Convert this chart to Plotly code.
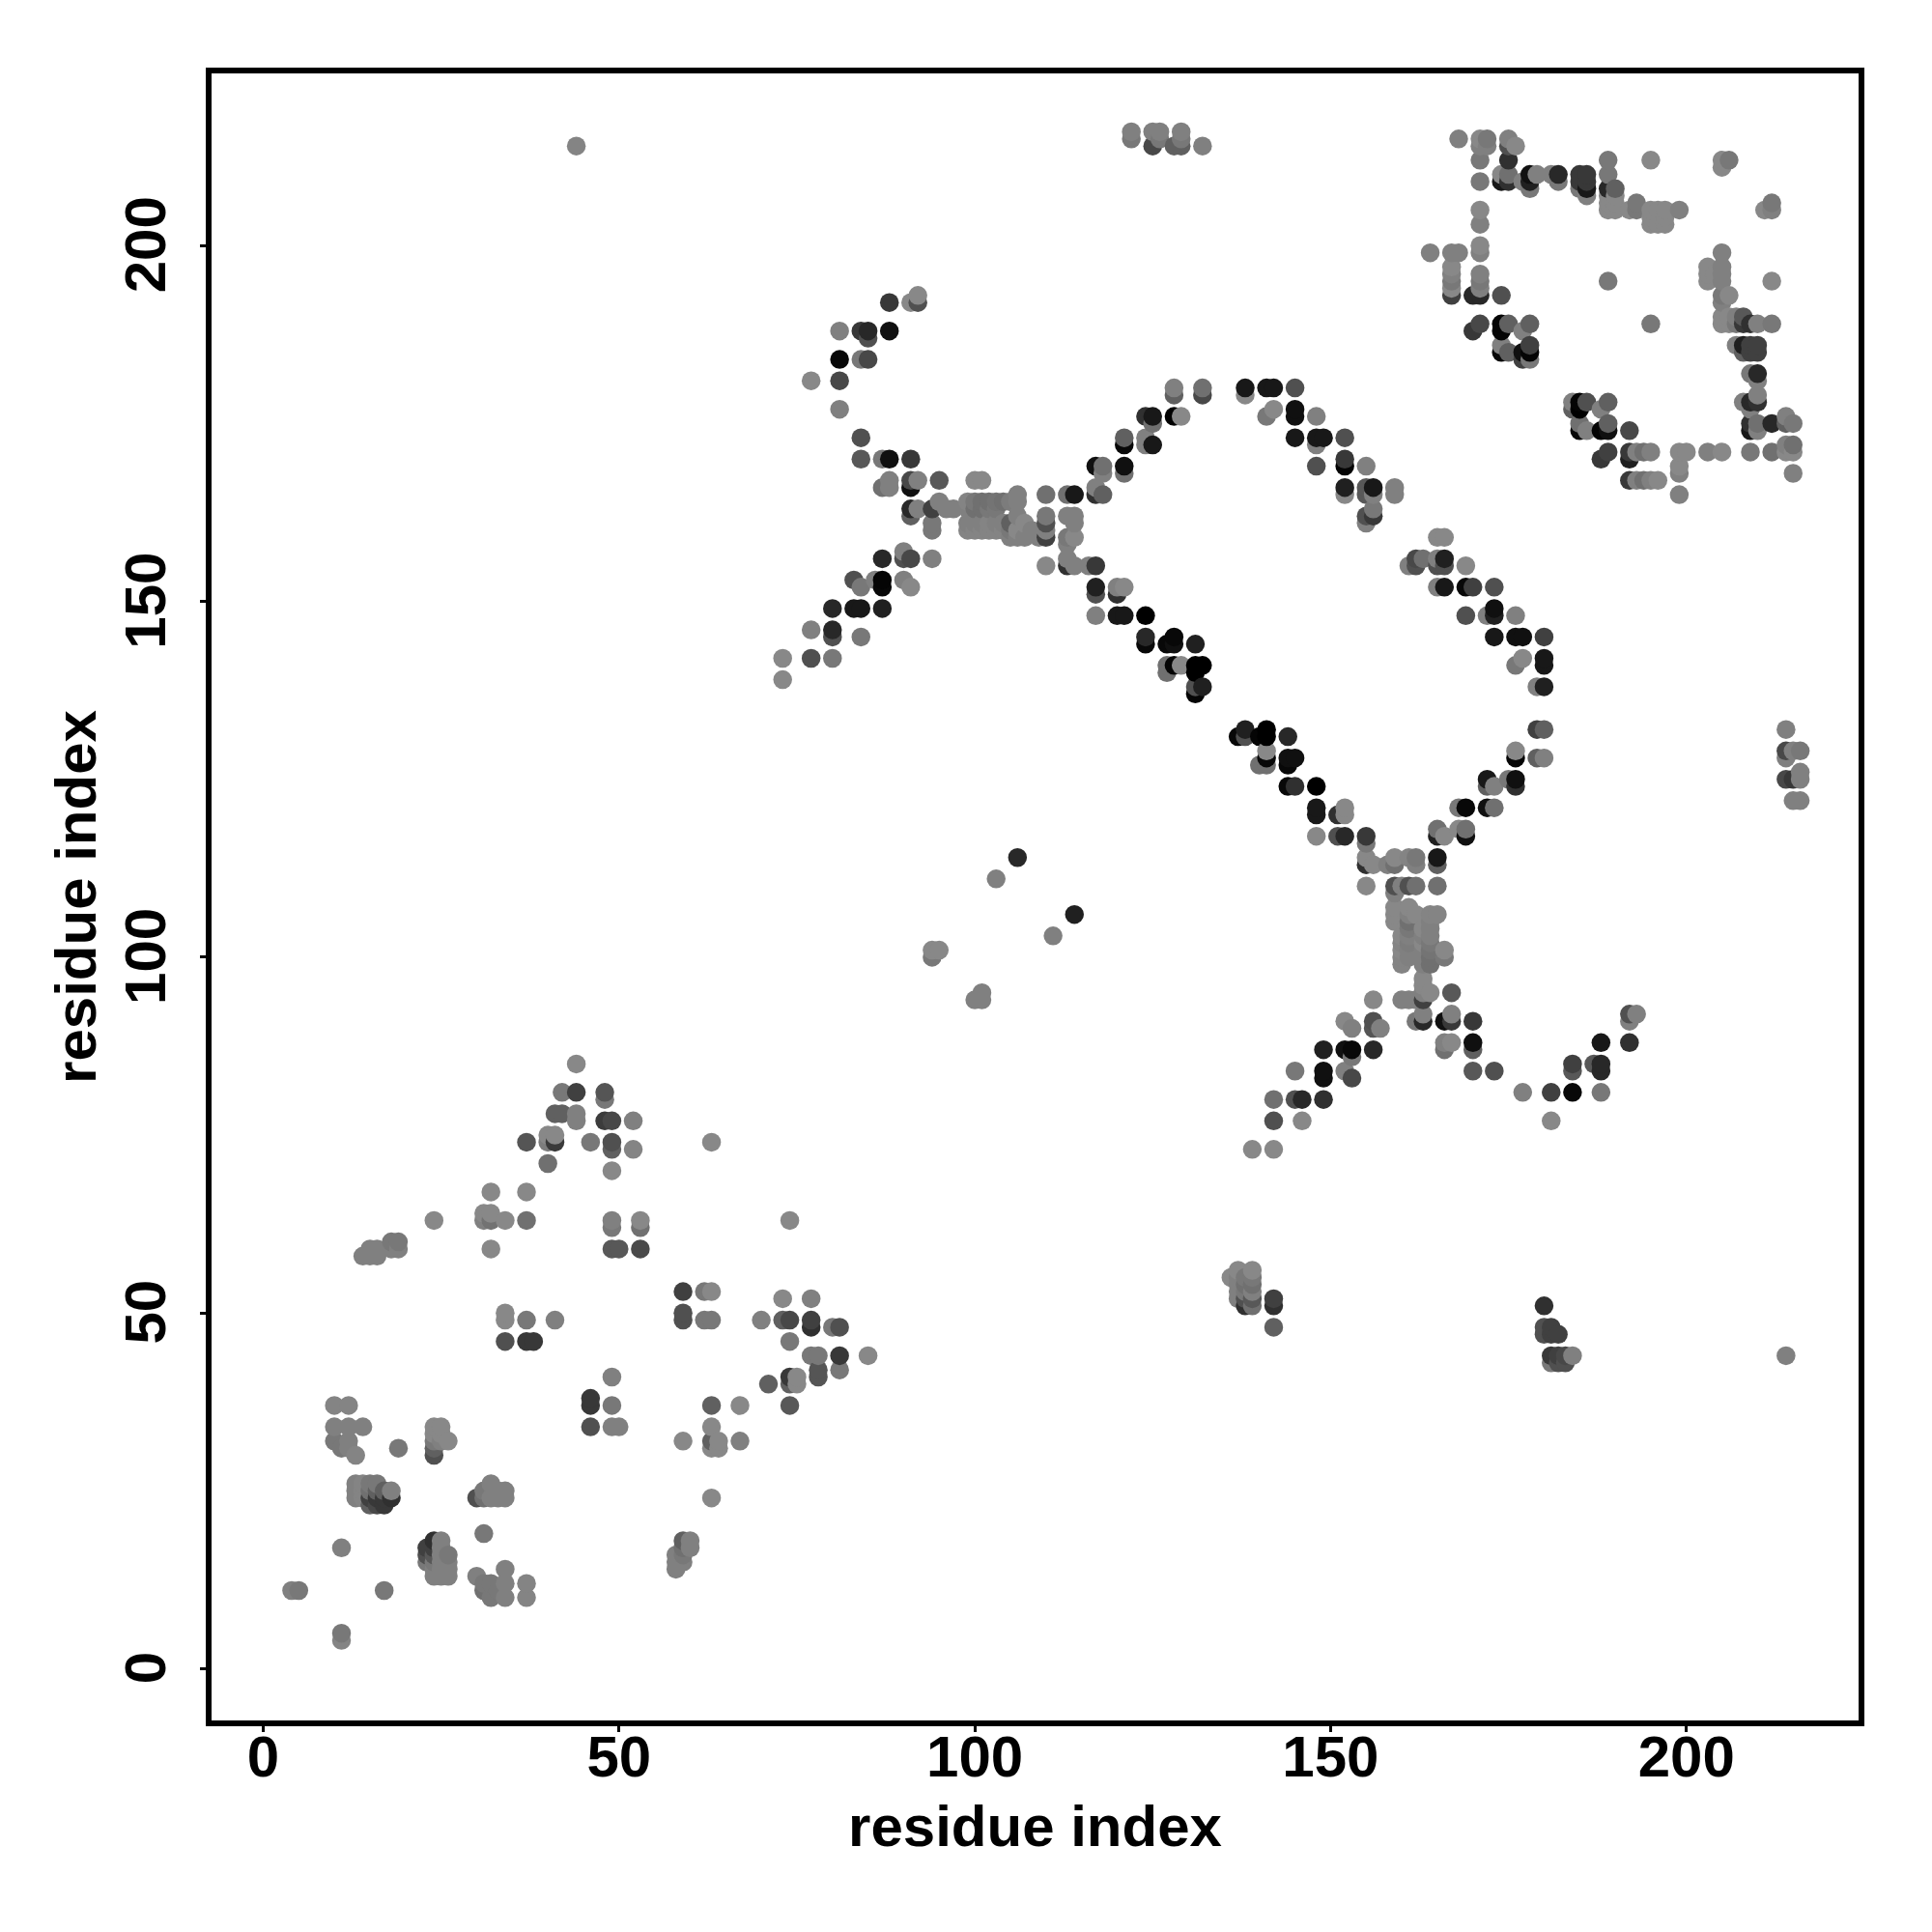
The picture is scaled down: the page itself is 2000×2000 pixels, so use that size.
import plotly.graph_objects as go

TICKS = [0, 50, 100, 150, 200]
AXIS_LABEL = "residue index"

peak_x = [44,42,44,48,48,41,42,44,44,48,49,52,37,40,40,41,41,46,49,49,52,40,49]
peak_y = [85,81,81,81,80,78,78,78,77,77,77,77,74,74,75,75,74,74,74,73,73,71,70]
peak_s = [0x88,0x78,0x40,0x55,0x78,0x60,0x60,0x80,0x80,0x3c,0x48,0x80,0x55,0x7d,0x88,0x88,0x3a,0x78,0x50,0x60,0x84,0x70,0x88]

midl_x = [32,37,24,31,32,31,32,34,37,32,49,49,53,53,49,50,53,15,16,14,15,16,18,19,18,19]
midl_y = [67,67,63,64,64,63,63,63,63,59,63,62,63,62,59,59,59,59,59,58,58,58,60,60,59,59]
midl_s = [0x88,0x88,0x88,0x88,0x88,0x80,0x72,0x88,0x70,0x88,0x80,0x78,0x88,0x70,0x58,0x58,0x4a,0x80,0x80,0x80,0x80,0x80,0x78,0x78,0x80,0x80]

band_x = [34,34,37,41,34,37,38,49,46,46,49,46,49,50]
band_y = [50,49,49,49,46,46,46,41,38,37,37,34,34,34]
band_s = [0x88,0x88,0x78,0x80,0x50,0x38,0x38,0x80,0x38,0x38,0x78,0x50,0x80,0x80]

low1_x = [10,12,10,12,14,10,11,12,12,13,19,24,25,24,25,26,24,25,24,24]
low1_y = [37,37,34,34,34,32,31,32,31,30,31,34,34,33,33,32,32,32,31,30]
low1_s = [0x84,0x84,0x80,0x80,0x80,0x78,0x78,0x80,0x80,0x84,0x78,0x88,0x88,0x88,0x88,0x88,0x78,0x80,0x60,0x50]

low2_x = [13,13,13,14,14,14,15,15,15,15,16,16,16,16,17,17,17,18,18,32,31,33,34,30,31,32,33,34]
low2_y = [26,25,24,26,25,24,26,25,24,23,26,25,24,23,25,24,23,25,24,26,25,25,25,24,24,24,24,24]
low2_s = [0x80,0x80,0x80,0x84,0x84,0x84,0x78,0x70,0x40,0x60,0x78,0x60,0x38,0x48,0x60,0x38,0x38,0x80,0x30,0x80,0x78,0x80,0x80,0x50,0x70,0x80,0x80,0x80]

low3_x = [31,11,23,23,23,24,24,24,24,24,24,25,25,25,25,25,25,26,26,26,26]
low3_y = [19,17,17,16,15,18,17,16,15,14,13,18,17,16,15,14,13,16,15,14,13]
low3_s = [0x78,0x80,0x40,0x50,0x78,0x30,0x40,0x58,0x78,0x80,0x80,0x80,0x80,0x80,0x80,0x80,0x80,0x78,0x80,0x80,0x80]

low4_x = [4,5,17,30,31,32,34,34,31,33,32,34,37,37,11,11,59,60,59,60,58,59,58,59,58]
low4_y = [11,11,11,13,12,12,14,12,11,11,10,10,12,10,5,4,18,18,17,17,16,16,15,15,14]
low4_s = [0x80,0x78,0x78,0x80,0x78,0x78,0x80,0x80,0x70,0x78,0x78,0x80,0x84,0x84,0x78,0x84,0x60,0x80,0x70,0x80,0x80,0x78,0x80,0x80,0x80]

mid2_x = [63,74,59,62,63,59,59,62,63,73,77,70,73,74,77,77,80,81,74,77,78,81,85]
mid2_y = [74,63,53,53,53,50,49,49,49,52,52,49,49,49,49,48,48,48,46,44,44,44,44]
mid2_s = [0x88,0x88,0x40,0x78,0x88,0x50,0x50,0x78,0x78,0x88,0x80,0x80,0x60,0x48,0x40,0x30,0x78,0x50,0x78,0x78,0x78,0x38,0x88]

mid3_x = [78,78,81,71,74,74,75,75,63,67,74,63,63,64,63,64,67,59,63]
mid3_y = [42,41,42,40,41,40,41,40,37,37,37,34,32,32,31,31,32,32,24]
mid3_s = [0x55,0x55,0x78,0x60,0x38,0x60,0x88,0x88,0x60,0x88,0x58,0x88,0x60,0x88,0x88,0x88,0x80,0x88,0x88]

arm1_x = [148,151,152,155,155,165,165,166,169,169,168,155,155,156,158,159,159,161,162,162,165,165,155,159,160,161,162,165,159]
arm1_y = [117,117,117,117,116,117,118,117,117,118,118,114,113,113,113,114,113,114,114,113,114,113,110,110,110,110,110,110,109]
arm1_s = [0x88,0x50,0x28,0x38,0x78,0x20,0x70,0x88,0x10,0x70,0x88,0x88,0x30,0x88,0x80,0x88,0x70,0x84,0x78,0x80,0x18,0x60,0x88,0x50,0x80,0x50,0x70,0x70,0x80]

col1_x = [159,159,159,161,162,161,161,164,165,166,166,160,160,160,160,160,161,161,161,161,161]
col1_y = [107,106,105,107,106,106,105,106,106,101,100,103,102,101,100,99,104,103,102,101,100]
col1_s = [0x88,0x88,0x88,0x88,0x88,0x80,0x70,0x84,0x84,0x88,0x78,0x88,0x84,0x88,0x84,0x84,0x78,0x80,0x7c,0x80,0x80]

col2_x = [163,163,163,163,163,163,164,164,164,164,164,164,164,163,163,163,163,164,167,156,160,161,162]
col2_y = [104,103,102,101,100,99,105,104,103,102,101,100,99,97,96,95,94,95,95,94,94,94,94]
col2_s = [0x88,0x80,0x88,0x80,0x80,0x80,0x80,0x80,0x80,0x78,0x74,0x70,0x70,0x88,0x88,0x80,0x40,0x88,0x58,0x88,0x80,0x80,0x80]

arm2_x = [162,163,163,166,167,167,170,156,156,157,152,153,166,167,166,170,170,149,152,153,156,153]
arm2_y = [91,91,92,91,91,92,91,91,90,90,91,90,88,88,87,88,87,87,87,87,87,86]
arm2_s = [0x78,0x28,0x80,0x10,0x38,0x80,0x38,0x50,0x55,0x80,0x88,0x80,0x80,0x88,0x70,0x10,0x60,0x20,0x10,0x08,0x28,0x78]

arm3_x = [145,149,149,152,153,170,173,142,145,146,149,142,146,139,142]
arm3_y = [84,84,83,84,83,84,84,80,80,80,80,77,77,73,73]
arm3_s = [0x78,0x10,0x10,0x80,0x48,0x58,0x50,0x70,0x50,0x28,0x30,0x50,0x88,0x88,0x88]

hook_x = [177,181,184,188,181,184,184,187,188,188,188,192,192,193,192]
hook_y = [81,81,81,81,77,85,84,85,85,84,88,88,92,92,91]
hook_s = [0x80,0x40,0x08,0x78,0x88,0x40,0x58,0x58,0x28,0x28,0x18,0x30,0x50,0x80,0x80]

lobe_x = [136,137,137,137,137,137,138,138,138,138,138,139,139,139,139,139,139]
lobe_y = [55,56,55,54,53,52,55,54,53,52,51,56,55,54,53,52,51]
lobe_s = [0x88,0x88,0x80,0x80,0x80,0x80,0x78,0x70,0x78,0x50,0x30,0x88,0x78,0x70,0x80,0x58,0x70]

lobe2_x = [142,142,142,180,180,180,181,181,182,181,182,183,184,181,182,183,214]
lobe2_y = [52,51,48,51,48,47,48,47,47,44,44,44,44,43,43,43,44]
lobe2_s = [0x40,0x30,0x60,0x30,0x50,0x50,0x40,0x40,0x40,0x38,0x40,0x48,0x80,0x78,0x50,0x50,0x80]

lone_x = [106,103,114,111,94,95,94,101,100,101]
lone_y = [114,111,106,103,101,101,100,95,94,94]
lone_s = [0x28,0x80,0x20,0x80,0x88,0x88,0x78,0x80,0x80,0x80]

ring1_x = [152,152,155,156,155,156,159,159,156,156,155,155,165,166,161,162,162,163,165,166,165,166,169]
ring1_y = [166,165,166,166,165,165,166,165,163,162,162,161,159,159,155,156,155,156,156,156,155,155,155]
ring1_s = [0x20,0x88,0x58,0x18,0x58,0x80,0x80,0x80,0x78,0x38,0x50,0x80,0x88,0x88,0x80,0x48,0x50,0x70,0x80,0x20,0x50,0x50,0x88]

ring2_x = [165,166,169,170,173,169,172,173,173,176,173,176,177,180,177,176,180,180,179,180]
ring2_y = [152,152,152,152,152,148,148,149,148,148,145,145,145,145,142,141,142,141,138,138]
ring2_s = [0x80,0x18,0x08,0x40,0x50,0x50,0x80,0x10,0x20,0x80,0x18,0x10,0x10,0x40,0x88,0x78,0x18,0x18,0x80,0x20]

ring3_x = [179,180,179,180,176,176,172,172,173,175,176,176,168,169,172,173]
ring3_y = [132,132,128,128,129,128,125,124,124,125,125,124,121,121,121,121]
ring3_s = [0x40,0x60,0x60,0x80,0x88,0x05,0x18,0x60,0x80,0x78,0x10,0x30,0x78,0x08,0x10,0x70]

diag_x = [138,137,138,140,141,141,144,141,141,140,141,144,145,144,144,145,148,148,148,151,152,152]
diag_y = [132,131,131,131,132,131,131,129,128,127,127,128,128,127,124,124,124,121,120,120,121,120]
diag_s = [0x20,0x08,0x50,0x05,0x00,0x00,0x28,0x88,0x08,0x70,0x70,0x10,0x10,0x08,0x08,0x30,0x00,0x18,0x18,0x30,0x88,0x88]

up1_x = [88,91,92,92,81,84,85,85,88,81,84,85,77,81,81,84,84,87,88,91]
up1_y = [192,192,192,193,188,188,188,187,188,184,184,184,181,181,177,173,170,170,170,170]
up1_s = [0x38,0x88,0x50,0x88,0x80,0x38,0x28,0x50,0x10,0x08,0x78,0x48,0x88,0x48,0x80,0x50,0x58,0x78,0x10,0x38]

up2_x = [87,88,88,91,91,92,95,91,92,91,94,95,96,97,94,94,100,101]
up2_y = [166,167,166,167,166,167,167,163,163,162,163,164,163,163,161,160,167,167]
up2_s = [0x70,0x80,0x80,0x48,0x10,0x80,0x58,0x28,0x80,0x60,0x40,0x80,0x80,0x80,0x78,0x78,0x88,0x88]

hub1_x = [99,100,101,102,103,104,105,99,100,101,102,103,106]
hub1_y = [164,164,164,164,164,164,164,163,163,163,163,163,162]
hub1_s = [0x84,0x78,0x70,0x70,0x74,0x70,0x7c,0x80,0x70,0x70,0x78,0x78,0x80]

hub2_x = [99,100,101,102,103,104,105,107,99,100,101,102,103,104,105,106,108,105,106,107,109,106,106]
hub2_y = [161,161,161,161,161,161,161,161,160,160,160,160,160,160,160,160,160,159,159,159,159,165,164]
hub2_s = [0x80,0x80,0x80,0x84,0x80,0x80,0x60,0x88,0x84,0x84,0x84,0x84,0x84,0x84,0x78,0x88,0x80,0x80,0x80,0x80,0x80,0x80,0x80]

hub3_x = [110,113,114,110,110,110,110,113,114,114,113,114,113,113,110,113,114,116,117]
hub3_y = [165,165,165,162,161,160,159,162,162,161,159,159,158,156,155,155,155,155,155]
hub3_s = [0x70,0x70,0x18,0x78,0x50,0x80,0x40,0x80,0x80,0x80,0x78,0x88,0x80,0x80,0x88,0x30,0x80,0x80,0x38]

line1_x = [117,117,120,121,120,117,120,121,124,124,124,127,128,128,131,127,127,128,129,131,132,131,131,132,131]
line1_y = [152,151,152,152,151,148,148,148,148,145,144,144,145,144,144,141,140,141,141,141,141,140,138,138,137]
line1_s = [0x20,0x50,0x80,0x88,0x30,0x80,0x18,0x18,0x00,0x28,0x08,0x08,0x08,0x10,0x20,0x70,0x70,0x05,0x88,0x00,0x00,0x00,0x50,0x20,0x05]

cross_x = [90,87,90,91,94,83,84,86,87,87,90,91,80,83,84,87,77,80,80,84,73,77,80,73]
cross_y = [157,156,156,156,156,153,152,153,153,152,153,152,149,149,149,149,146,146,145,145,142,142,142,139]
cross_s = [0x80,0x28,0x50,0x48,0x80,0x50,0x78,0x80,0x05,0x08,0x80,0x88,0x28,0x18,0x18,0x20,0x80,0x28,0x50,0x78,0x88,0x50,0x78,0x88]

roof1_x = [121,121,124,124,125,117,118,118,121,121,117,117,118,124,125,125,128,129,128,128,132,132]
roof1_y = [173,172,173,172,172,169,169,168,169,168,166,165,165,176,176,175,176,176,180,179,180,179]
roof1_s = [0x60,0x08,0x80,0x80,0x18,0x10,0x70,0x80,0x10,0x70,0x80,0x30,0x60,0x30,0x18,0x70,0x00,0x88,0x80,0x60,0x70,0x48]

roof2_x = [145,145,141,142,148,138,138,141,142,145,145,148,149,152,148,148,152,152,155]
roof2_y = [177,176,176,177,176,180,179,180,180,180,173,173,173,173,172,169,170,169,169]
roof2_s = [0x10,0x10,0x78,0x88,0x80,0x18,0x88,0x18,0x18,0x50,0x18,0x18,0x18,0x50,0x80,0x50,0x38,0x05,0x80]

top_x = [44,122,122,125,126,125,126,129,129,128,129,132]
top_y = [214,216,215,216,216,214,215,216,215,214,214,214]
top_s = [0x84,0x80,0x78,0x80,0x80,0x48,0x78,0x80,0x78,0x60,0x60,0x80]

box1_x = [168,171,172,171,172,175,176,175,171,175,171,174,175,174,175,177,178,178,178,179,181,182,182]
box1_y = [215,215,215,214,214,215,214,214,212,212,209,210,210,209,209,209,210,209,208,210,210,210,209]
box1_s = [0x80,0x88,0x78,0x80,0x80,0x80,0x88,0x50,0x78,0x30,0x78,0x88,0x70,0x18,0x30,0x80,0x10,0x20,0x78,0x80,0x80,0x28,0x78]

box2_x = [185,186,185,186,185,186,186,189,189,189,190,189,189,189,190,190,190,195,193,193,192,195,196,197,199]
box2_y = [210,210,209,209,208,208,207,212,210,208,208,207,206,205,207,206,205,212,206,205,205,205,205,205,205]
box2_s = [0x38,0x38,0x38,0x38,0x78,0x18,0x80,0x78,0x78,0x28,0x60,0x88,0x88,0x88,0x88,0x88,0x88,0x88,0x78,0x78,0x88,0x88,0x88,0x88,0x80]

box3_x = [195,196,197,195,197,205,206,205,212,211,212,171,171,164,167,168,171,171]
box3_y = [203,203,203,204,204,212,212,211,206,205,205,205,203,199,199,199,200,199]
box3_s = [0x88,0x88,0x88,0x88,0x88,0x88,0x78,0x88,0x78,0x88,0x80,0x88,0x80,0x80,0x80,0x80,0x88,0x80]

box4_x = [167,167,167,167,167,171,171,171,170,171,174,170,171,174,174,175,177,178]
box4_y = [197,196,195,194,193,196,195,194,193,193,193,188,189,189,188,189,188,189]
box4_s = [0x88,0x80,0x78,0x88,0x40,0x80,0x78,0x80,0x28,0x28,0x50,0x38,0x48,0x05,0x05,0x60,0x80,0x60]

box5_x = [174,174,175,177,177,178,178,178,189,195,205,212,203,203,203,204,205,205,205,205,206,205]
box5_y = [186,185,185,185,184,186,185,184,195,189,199,195,197,196,195,196,197,196,195,193,193,192]
box5_s = [0x80,0x08,0x60,0x10,0x40,0x40,0x05,0x78,0x78,0x78,0x80,0x88,0x88,0x88,0x88,0x88,0x80,0x80,0x80,0x78,0x88,0x80]

box6_x = [205,205,206,206,207,208,207,208,209,210,212,207,208,209,210,208,209,210,209,210,210]
box6_y = [190,189,190,189,190,190,189,189,189,189,189,186,186,186,186,185,185,185,182,182,181]
box6_s = [0x88,0x88,0x88,0x88,0x80,0x58,0x78,0x38,0x30,0x80,0x78,0x80,0x20,0x40,0x40,0x60,0x40,0x40,0x78,0x28,0x80]

box7_x = [208,209,210,210,209,209,209,210,210,212,214,215,214,214,215,214,215,209,212,215]
box7_y = [178,178,178,179,177,175,174,175,174,175,176,175,175,172,172,171,171,171,171,168]
box7_s = [0x80,0x28,0x30,0x80,0x80,0x30,0x18,0x70,0x80,0x28,0x80,0x78,0x60,0x80,0x70,0x88,0x88,0x78,0x70,0x80]

box8_x = [184,185,186,184,185,189,188,185,185,186,188,189,189,192,188,189]
box8_y = [178,178,178,177,177,178,177,175,174,174,174,174,175,174,170,171]
box8_s = [0x80,0x05,0x50,0x60,0x00,0x60,0x80,0x70,0x08,0x80,0x05,0x10,0x60,0x48,0x38,0x40]

box9_x = [192,192,193,194,195,199,200,203,205,192,193,194,195,196,199,199,199]
box9_y = [171,170,171,171,171,171,171,171,171,167,167,167,167,167,169,168,165]
box9_s = [0x38,0x20,0x80,0x70,0x80,0x88,0x88,0x80,0x88,0x38,0x80,0x70,0x80,0x88,0x88,0x80,0x80]

side_x = [214,214,214,215,216,214,215,216,216,215,216]
side_y = [132,129,128,129,129,125,125,126,125,122,122]
side_s = [0x80,0x48,0x80,0x80,0x78,0x48,0x38,0x80,0x80,0x80,0x80]

blocks = [
    (peak_x, peak_y, peak_s), (midl_x, midl_y, midl_s), (band_x, band_y, band_s),
    (low1_x, low1_y, low1_s), (low2_x, low2_y, low2_s), (low3_x, low3_y, low3_s),
    (low4_x, low4_y, low4_s), (mid2_x, mid2_y, mid2_s), (mid3_x, mid3_y, mid3_s),
    (arm1_x, arm1_y, arm1_s), (col1_x, col1_y, col1_s), (col2_x, col2_y, col2_s),
    (arm2_x, arm2_y, arm2_s), (arm3_x, arm3_y, arm3_s), (hook_x, hook_y, hook_s),
    (lobe_x, lobe_y, lobe_s), (lobe2_x, lobe2_y, lobe2_s), (lone_x, lone_y, lone_s),
    (ring1_x, ring1_y, ring1_s), (ring2_x, ring2_y, ring2_s), (ring3_x, ring3_y, ring3_s),
    (diag_x, diag_y, diag_s), (up1_x, up1_y, up1_s), (up2_x, up2_y, up2_s),
    (hub1_x, hub1_y, hub1_s), (hub2_x, hub2_y, hub2_s), (hub3_x, hub3_y, hub3_s),
    (line1_x, line1_y, line1_s), (cross_x, cross_y, cross_s), (roof1_x, roof1_y, roof1_s),
    (roof2_x, roof2_y, roof2_s), (top_x, top_y, top_s), (box1_x, box1_y, box1_s),
    (box2_x, box2_y, box2_s), (box3_x, box3_y, box3_s), (box4_x, box4_y, box4_s),
    (box5_x, box5_y, box5_s), (box6_x, box6_y, box6_s), (box7_x, box7_y, box7_s),
    (box8_x, box8_y, box8_s), (box9_x, box9_y, box9_s), (side_x, side_y, side_s),
]

points = {}
for bx, by, bs in blocks:
    for px, py, ps in zip(bx, by, bs, strict=True):
        points[(px, py)] = ps
ordered = sorted(points)
res_x = [p[0] for p in ordered]
res_y = [p[1] for p in ordered]
shade = [points[p] for p in ordered]

FONT = dict(family="Liberation Sans", size=60, color="black", weight=700)

fig = go.Figure(go.Scatter(
    x=res_x, y=res_y, mode="markers",
    marker=dict(size=19.5, color=[f"rgb({s},{s},{s})" for s in shade], line=dict(width=0)),
    cliponaxis=True, showlegend=False,
))

axis = dict(
    tickmode="array", tickvals=TICKS, ticktext=[str(t) for t in TICKS],
    showgrid=False, zeroline=False, showline=True, mirror=True,
    linecolor="black", linewidth=6, ticks="outside", ticklen=6, tickwidth=3,
    tickcolor="black", tickfont=FONT,
)
fig.update_xaxes(**axis, range=[-7.26, 224.2], ticklabelstandoff=-26, title=dict(text=AXIS_LABEL, font=FONT, standoff=20))
fig.update_yaxes(**axis, range=[-7.26, 224.2], ticklabelstandoff=12, ticklabelshift=8, tickangle=-90, title=dict(text=AXIS_LABEL, font=FONT, standoff=0))
fig.update_layout(
    width=2000, height=2000, autosize=False, paper_bgcolor="white", plot_bgcolor="white",
    margin=dict(l=210.5, r=83.5, t=67.5, b=226.5, autoexpand=False),
)
fig.write_html("out.html")
